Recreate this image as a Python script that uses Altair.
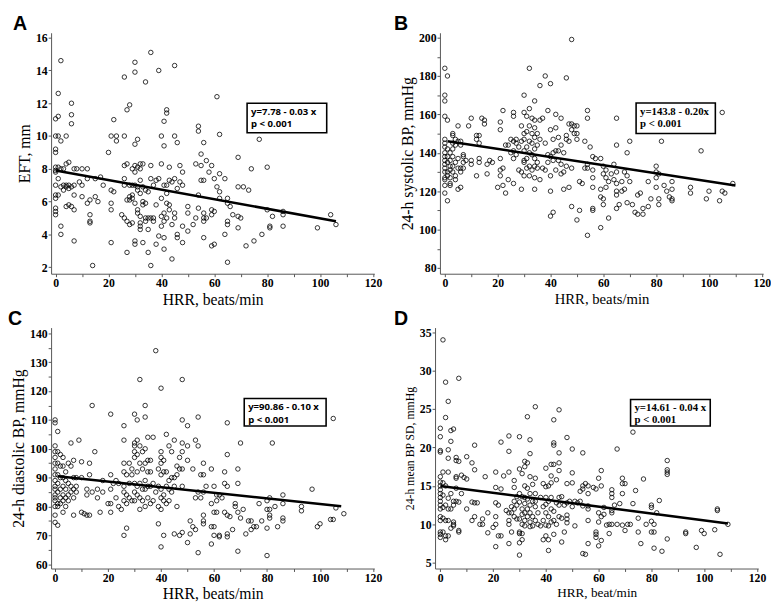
import altair as alt
import pandas as pd

# ---------------- data ----------------
# Panel A: HRR (beats/min) vs EFT (mm)
PTS_A = [(2,14.6),(1,12.6),(0,11.05),(1,11.2),(0,10),(1,10),(2,9.7),(4,10),(0,9.2),(0,9.0),(0,8.1),(1,8.1),(2,8.0),
 (0,7.9),(0,7.8),(1,7.4),(0,7.0),(2,6.9),(0,6.4),(1,6.4),(0,6.2),(0,5.6),(0,5.4),(0,5.2),(2,4.5),(2,4.0),(3,7.0),(3,6.7),
 (4,7.0),(4,6.9),(5,7.0),(5,6.8),(4,5.7),(5,5.8),(6,5.7),(4,8.3),(5,8.4),(3,8.0),(6,12.0),(6,11.3),(6,10.75),(7,8.0),
 (8,8.0),(7,7.0),(6,6.9),(7,6.4),(7,5.5),(7,3.6),(9,7.2),(10,7.0),(10,8.0),(12,8.0),(10,6.3),(12,5.9),(12,7.4),(13,6.1),
 (13,5.2),(13,4.8),(13,4.7),(14,2.1),(15,6.3),(15,7.4),(16,6.0),(17,7.5),(18,7.0),(20,9.0),(21,10.0),(21,6.7),(21,5.9),
 (21,5.5),(21,3.5),(22,11.0),(22,6.6),(23,10.0),(23,9.7),(25,5.2),(26,13.6),(26,10.0),(26,8.2),(26,7.4),(26,7.0),(26,5.0),
 (27,11.6),(27,8.3),(27,6.1),(27,4.8),(27,2.9),(28,11.9),(28,7.0),(28,6.3),(28,6.1),(28,4.6),(29,8.0),(29,7.0),(29,6.4),
 (29,6.2),(29,4.7),(30,14.5),(30,13.9),(30,9.5),(30,8.2),(30,7.8),(30,7.0),(30,5.9),(30,3.6),(30,3.4),(31,9.8),(31,8.1),
 (31,6.9),(31,6.7),(31,5.5),(31,5.3),(32,8.3),(32,8.0),(32,7.3),(32,6.5),(32,5.1),(32,4.7),(32,4.5),(32,4.3),(33,8.3),
 (33,6.9),(33,6.0),(33,5.8),(33,3.5),(34,13.3),(34,6.7),(34,5.9),(34,5.0),(34,4.8),(35,6.6),(35,5.0),(35,4.3),(35,2.9),
 (36,15.1),(36,8.2),(36,7.4),(36,5.0),(36,2.1),(37,7.0),(37,5.0),(37,4.8),(38,5.8),(38,3.4),(38,7.3),(39,14.0),(39,7.4),
 (39,3.9),(40,10.0),(40,8.3),(40,6.2),(40,5.1),(40,4.5),(41,10.9),(41,9.4),(41,7.0),(41,5.3),(41,4.8),(41,3.8),(41,3.1),
 (42,11.6),(42,11.4),(42,7.0),(42,6.5),(42,5.9),(42,5.0),(43,8.1),(43,7.3),(43,5.8),(43,5.5),(44,2.5),(44,4.6),(44,7.2),
 (45,14.3),(45,10.0),(45,7.4),(45,5.3),(45,5.0),(46,9.6),(46,6.8),(46,4.0),(46,3.8),(47,8.2),(47,7.2),(48,7.8),(48,7.0),
 (48,4.5),(48,3.5),(50,5.7),(50,5.3),(50,4.2),(52,4.6),(53,8.3),(53,5.0),(54,10.6),(54,10.3),(54,6.4),(54,5.6),(55,8.9),
 (55,7.3),(55,8.2),(56,9.6),(56,7.3),(56,5.3),(56,5.0),(56,4.8),(56,3.8),(57,5.0),(57,8.5),(58,7.8),(59,3.3),(59,5.5),
 (59,5.2),(59,8.2),(60,3.4),(60,7.4),(60,5.4),(61,12.4),(61,6.9),(62,10.1),(62,7.7),(62,6.6),(62,6.2),(64,4.0),(64,7.4),
 (65,6.2),(65,5.9),(65,4.8),(65,4.6),(65,2.3),(66,5.7),(67,5.2),(69,8.7),(69,6.9),(69,5.1),(69,4.4),(70,5.0),(71,6.9),
 (72,3.3),(73,6.7),(74,8.0),(75,3.6),(77,9.8),(78,4.0),(80,8.1),(80,5.5),(81,4.5),(81,4.4),(82,5.1),(86,5.4),(86,5.2),
 (86,4.5),(99,4.4),(104,5.2),(106,4.6)]
LINE_A = [(0, 7.9), (106, 4.8)]
EQ_A = ["y=7.78  - 0.03 x", "p < 0.001"]

# Panel B: HRR vs 24-h systolic BP (mmHg)
PTS_B = [(0,184),(0,170),(0,167),(0,159),(0,147),(0,145),(0,143),(0,140),(0,138),(0,136),(0,134),(0,132),(0,130),(0,127),
 (0,126),(0,123),(0,119),(1,180),(1,157),(1,115),(1,142),(1,138),(1,135),(1,130),(1,128),(2,140),(2,136),(2,133),(2,131),
 (2,127),(2,124),(2,123),(3,150),(3,149),(3,145),(3,142),(3,138),(3,133),(3,130),(4,147),(4,144),(4,135),(4,128),(4,126),
 (5,154),(5,146),(5,137),(5,132),(5,121),(6,146),(6,144),(6,132),(6,130),(6,122),(7,139),(7,138),(7,135),(7,132),(8,136),
 (9,154),(10,158),(10,136),(10,134),(12,149),(12,147),(12,128),(13,149),(13,145),(13,137),(13,135),(14,158),(15,157),
 (15,155),(16,134),(16,129),(17,136),(18,135),(20,122),(21,156),(21,152),(21,137),(21,131),(21,128),(22,162),(22,132),
 (22,123),(23,119),(23,144),(24,144),(24,126),(25,147),(25,140),(26,161),(26,159),(26,146),(26,141),(26,137),(26,124),
 (27,147),(27,145),(27,139),(28,143),(28,131),(29,154),(29,146),(29,130),(29,121),(30,170),(30,161),(30,150),(30,147),
 (30,141),(30,136),(30,135),(30,128),(31,159),(31,151),(31,143),(31,137),(31,132),(32,184),(32,163),(32,154),(32,146),
 (32,140),(32,133),(32,128),(33,158),(33,150),(33,145),(33,139),(33,131),(34,167),(34,157),(34,153),(34,148),(34,142),
 (34,137),(34,133),(34,127),(34,121),(35,150),(35,144),(35,135),(35,132),(36,175),(36,157),(36,147),(36,126),(37,158),
 (37,132),(38,180),(38,145),(38,131),(39,162),(39,139),(39,135),(40,176),(40,152),(40,138),(40,128),(40,120),(40,107),
 (41,147),(41,140),(41,136),(41,109),(42,160),(42,153),(42,141),(42,131),(43,148),(43,141),(43,136),(44,158),(44,144),
 (44,134),(44,129),(45,140),(45,130),(45,121),(46,179),(46,149),(46,147),(46,133),(47,155),(47,146),(47,122),(48,199),
 (48,155),(48,152),(48,132),(48,112),(49,154),(49,150),(50,154),(50,150),(50,147),(50,105),(51,125),(51,110),(52,124),
 (53,146),(53,132),(54,162),(54,158),(54,134),(54,132),(54,97),(55,143),(56,138),(56,131),(56,127),(56,122),(56,111),
 (56,110),(57,137),(59,137),(59,121),(59,117),(59,101),(60,133),(60,129),(60,116),(60,113),(61,131),(61,127),(61,122),
 (62,125),(62,106),(63,129),(64,134),(64,126),(65,158),(65,144),(65,130),(65,124),(65,120),(65,118),(65,111),(66,113),
 (67,125),(67,120),(68,130),(68,121),(69,140),(69,128),(69,114),(70,146),(70,125),(71,113),(72,109),(73,118),(73,108),
 (74,119),(75,108),(75,111),(77,125),(77,112),(78,116),(80,133),(80,130),(80,127),(80,122),(81,129),(81,116),(81,113),
 (82,146),(83,123),(84,120),(85,117),(86,125),(86,121),(86,116),(86,115),(93,122),(93,119),(97,141),(99,116),(100,120),
 (104,115),(105,161),(105,120),(106,119),(109,124)]
LINE_B = [(1, 146.0), (110, 123.0)]
EQ_B = ["y=143.8  - 0.20x", "p < 0.001"]

# Panel C: HRR vs 24-h diastolic BP (mmHg)
PTS_C = [(0,110),(0,109),(0,101),(0,99),(0,97),(0,95),(0,93),(0,91),(0,89),(0,87),(0,86),(0,84),(0,83),(0,82),(0,80),
 (0,77),(0,74.5),(1,106),(1,99),(1,95),(1,91),(1,88),(1,85),(1,81),(1,80),(1,73.5),(2,98),(2,94),(2,90),(2,86),(2,83),
 (2,81),(3,97),(3,94),(3,90),(3,87),(3,84),(3,82),(3,78),(4,92),(4,89),(4,86),(4,83),(4,80),(5,95),(5,88),(5,84),(5,82),
 (6,102),(6,94),(6,87),(6,85),(7,96),(7,90),(7,86),(7,83),(7,77),(8,90),(8,87),(8,85),(9,103),(10,95.5),(10,90),(10,78),
 (11,77.5),(12,86),(12,84),(12,77),(13,95),(13,91),(13,77),(14,115),(14,85),(15,99),(16,86),(16,83),(17,78),(18,89),
 (18,85),(20,81),(21,112),(21,91),(21,86),(21,81),(21,78),(22,88),(23,89),(23,83),(24,88),(24,80),(25,79),(26,108),
 (26,103),(26,95),(26,92),(26,87),(26,85),(26,82),(26,70),(27,91),(27,84),(27,81),(27,72.5),(28,95),(28,88),(28,83),
 (29,93),(29,91),(29,82),(30,112),(30,102),(30,101),(30,99),(30,97),(30,88),(30,85),(30,82),(31,110),(31,103),(31,98),
 (31,92),(31,87),(31,84),(32,124),(32,101),(32,95),(32,88),(32,83),(32,79),(33,99),(33,93),(33,86),(33,82),(34,115),
 (34,111),(34,100),(34,95),(34,89),(34,86),(34,80),(35,104),(35,96),(35,92),(35,87),(35,83),(36,96),(36,92),(36,87),
 (36,81),(37,104),(37,88),(37,82),(38,134),(38,85),(39,93),(39,87),(39,80),(39,74),(40,121),(40,99),(40,97),(40,95),
 (40,91),(40,86),(40,83),(40,79),(40,66),(41,96),(41,92),(41,84),(41,82),(41,70),(42,105),(42,92),(42,87),(42,81),
 (43,101),(43,89),(43,86),(43,82),(44,99),(44,90),(44,85),(45,103),(45,90),(45,87),(45,70.5),(46,94),(46,91),(46,80),
 (47,97),(47,93),(47,70),(48,124),(48,110),(48,102),(48,99),(48,93),(48,87),(48,71),(50,108),(50,101),(50,96),(50,67.5),
 (51,75),(51,70.5),(52,93),(52,73),(53,103),(53,83),(53,72),(54,111),(54,101),(54,85),(54,64),(55,91),(55,83),(56,95),
 (56,91),(56,85),(56,77),(56,75),(56,74),(57,87),(59,93),(59,81),(59,73),(59,67),(60,87),(60,78),(60,73),(60,70),(61,84),
 (61,82),(61,78),(62,84),(62,70),(62,69.5),(63,83),(64,92),(64,88),(64,78),(65,109),(65,98),(65,87),(65,77),(65,70.5),
 (65,69.5),(66,76.5),(67,72),(68,81),(68,80),(69,93),(69,88),(69,78),(69,64.5),(70,102),(70,76),(71,79),(72,70.5),(73,75),
 (74,72),(74,75),(75,73),(76,73),(77,81),(78,75),(80,82),(80,79),(80,72.5),(80,63),(81,83),(81,79),(81,77),(81,76),
 (82,102),(83,80),(84,73),(86,84),(86,81),(86,76),(86,75),(93,80),(93,78.5),(97,86),(99,73),(100,74),(104,75.5),
 (105,75.5),(105,110.5),(106,79.5),(109,77.5)]
LINE_C = [(1, 90.5), (108, 80.1)]
EQ_C = ["y=90.86 - 0.10 x", "p < 0.001"]

# Panel D: HRR vs 24-h mean BP SD (mmHg)
PTS_D = [(0,22.5),(0,21.4),(0,19.6),(0,19.4),(0,16.2),(0,15.5),(0,15),(0,14.5),(0,14),(0,13.5),(0,13),(0,12.5),(0,12),
 (0,11),(0,10.5),(0,9),(0,8.7),(0,8.3),(1,34),(1,16.8),(1,15.4),(1,13.8),(1,12.2),(1,10.8),(1,9),(2,28.5),(2,23.9),(2,15),
 (2,12.5),(2,10.5),(2,8.5),(2,8),(3,26),(3,19.7),(3,18.6),(3,16.8),(3,13.4),(3,12),(3,10.5),(3,8.5),(4,22.2),(4,20.8),
 (4,14),(4,12),(4,9.5),(5,22.4),(5,13),(5,12.5),(5,10.3),(5,10),(5,9.8),(6,18.7),(6,18.3),(6,16.2),(6,16),(6,14.7),(6,13),
 (7,29),(7,18.2),(7,12.9),(7,9.2),(7,9),(8,16.4),(8,14),(9,16.1),(10,18.8),(10,15.9),(10,12),(12,18),(12,12.9),(12,10.5),
 (13,20.3),(13,17.1),(13,12.8),(13,11),(14,12.8),(15,10),(16,10.7),(16,10),(17,16.2),(18,11.5),(18,8.9),(20,9.6),(21,16.8),
 (21,14.8),(21,12.8),(21,11),(21,10),(21,7.1),(22,12.5),(22,8.5),(23,20.7),(23,14.6),(23,8.5),(24,16.3),(25,11.8),(26,21.5),
 (26,19.5),(26,16.8),(26,11.5),(26,10.5),(26,10),(26,7.5),(27,12.3),(27,11.5),(27,9),(28,15.7),(28,14.8),(28,13),(28,12),
 (28,11),(29,13.6),(29,12.5),(29,10.7),(30,21.4),(30,17.2),(30,14),(30,12.9),(30,10.7),(30,9),(30,8.8),(30,7.6),(30,6),
 (31,16.6),(31,13.6),(31,12),(31,11.3),(31,10),(31,8.8),(31,8),(32,18.2),(32,17.5),(32,15),(32,13.5),(32,12.7),(32,11.5),
 (32,10.5),(32,9.8),(33,24),(33,18),(33,14.7),(33,13.3),(33,12),(33,11),(34,21),(34,19.2),(34,16.2),(34,14),(34,12.5),
 (34,11.5),(34,10.3),(34,9.7),(35,15.2),(35,13),(35,11),(35,9.8),(36,25.3),(36,16),(36,14),(36,13),(36,12.3),(36,10.5),
 (37,11.5),(37,10),(38,13.5),(38,9.8),(39,15.3),(39,12.3),(39,10.5),(39,8),(40,17.3),(40,14.9),(40,13.5),(40,12.6),
 (40,11.5),(40,9.9),(40,8.5),(41,15),(41,13),(41,11),(41,9.8),(41,8),(41,6.6),(42,17.8),(42,16.3),(42,15.4),(42,13.5),
 (42,12),(42,10.3),(43,23.6),(43,20.6),(43,20.3),(43,17.8),(43,11.7),(43,10.5),(43,8.7),(44,15.8),(44,12.8),(44,10),
 (45,24.9),(45,19.3),(45,18),(45,17),(45,13.5),(45,12.5),(45,11),(46,13.6),(46,10.8),(46,7.7),(47,12.5),(47,9),(48,21.3),
 (48,15.3),(48,12.8),(48,11.2),(48,10.7),(48,10.2),(49,13),(50,19.8),(50,16.7),(50,15.4),(50,12.3),(51,13),(51,9.8),
 (52,12.8),(53,14.3),(53,13),(54,19.3),(54,15),(54,14.6),(54,12.4),(54,6.2),(55,6.1),(55,15.3),(56,15),(56,14),(56,12.4),
 (56,12),(56,10.5),(56,7.5),(58,14.8),(59,14.6),(59,9),(59,8.7),(59,8.3),(60,16),(60,11.5),(60,10.3),(60,7.2),(61,17),
 (61,15),(61,11),(61,7.9),(62,12.2),(62,11.3),(63,9.9),(64,8.8),(64,10),(65,14.5),(65,14),(65,13.5),(65,11.8),(65,11.5),
 (65,10),(66,12.5),(67,19.8),(67,10),(68,12.7),(69,16),(69,15.3),(69,14),(69,9.9),(70,15.3),(70,9.2),(71,10),(72,10),
 (73,22),(73,12.7),(74,14.4),(75,10.8),(75,9),(76,7.5),(77,15.9),(78,10),(80,12.5),(80,12.2),(80,10.4),(80,9),(81,10),
 (81,9),(81,6.9),(82,11.5),(83,13.1),(84,6.5),(86,18.3),(86,17.1),(86,16.8),(86,16.5),(86,8.1),(93,9),(93,8.8),(97,7),
 (99,9.2),(100,8.8),(104,9.3),(105,12),(105,11.8),(106,6.1),(109,10)]
LINE_D = [(0, 15.0), (109, 10.1)]
EQ_D = ["y=14.61 - 0.04 x", "p < 0.001"]

X_TICKS = list(range(0, 121, 10))

SERIF = "Liberation Serif"
SANS = "Noto Sans"

W, H = 330, 246


def panel(letter, pts, line, eq, box, xtitle, ytitle, xdom, ydom, yticks, ylab_every,
          eq_font, eq_size, xt_size, yt_size, letter_pos):
    X = alt.X("x:Q",
              scale=alt.Scale(domain=xdom, nice=False, zero=False),
              axis=alt.Axis(values=X_TICKS,
                            labelExpr="datum.value % 20 == 0 ? datum.label : ''",
                            title=xtitle, titleFontSize=xt_size, titlePadding=3))
    Y = alt.Y("y:Q",
              scale=alt.Scale(domain=ydom, nice=False, zero=False),
              axis=alt.Axis(values=yticks,
                            labelExpr="datum.value %% %s == 0 ? datum.label : ''" % ylab_every,
                            title=ytitle, titleFontSize=yt_size, titlePadding=3))
    df = pd.DataFrame(pts, columns=["x", "y"])
    pts_layer = alt.Chart(df).mark_point(shape="circle", filled=False, color="black",
                                         size=21, strokeWidth=0.8, opacity=1).encode(x=X, y=Y)
    ldf = pd.DataFrame(line, columns=["x", "y"])
    line_layer = alt.Chart(ldf).mark_line(color="black", strokeWidth=2.6).encode(x=X, y=Y)
    bdf = pd.DataFrame([{"x": box[0], "x2": box[1], "y": box[2], "y2": box[3]}])
    rect = alt.Chart(bdf).mark_rect(fill="white", stroke="black", strokeWidth=1.6).encode(
        x=X, x2="x2:Q", y=Y, y2="y2:Q")
    t1 = alt.Chart(bdf).mark_text(text=eq[0], align="left", baseline="middle", dx=4, dy=9,
                                  font=eq_font, fontSize=eq_size, fontWeight="bold",
                                  color="black").encode(x=X, y=Y)
    t2 = alt.Chart(bdf).mark_text(text=eq[1], align="left", baseline="middle", dx=4, dy=21.5,
                                  font=eq_font, fontSize=eq_size, fontWeight="bold",
                                  color="black").encode(x=X, y=Y)
    lt = alt.Chart(pd.DataFrame({"a": [0]})).mark_text(
        text=letter, align="left", baseline="alphabetic", font="Liberation Sans",
        fontSize=20, fontWeight="bold", color="black").encode(
        x=alt.value(letter_pos[0]), y=alt.value(letter_pos[1]))
    return alt.layer(pts_layer, line_layer, rect, t1, t2, lt).properties(width=W, height=H)


pA = panel("A", PTS_A, LINE_A, EQ_A, (72.4, 102.5, 12.0, 10.2),
           "HRR, beats/min", "EFT, mm", [-1.7, 120.5], [1.6, 16.3], list(range(2, 17, 2)), 2,
           SANS, 9.8, 16, 16, (-39, -3))
pB = panel("B", PTS_B, LINE_B, EQ_B, (72.4, 102.4, 165.9, 150.0),
           "HRR, beats/min", "24-h systolic BP, mmHg", [-1.85, 120.5], [77, 202.5],
           list(range(80, 201, 10)), 20, SERIF, 11, 15, 16, (-47, -3))
pC = panel("C", PTS_C, LINE_C, EQ_C, (71.4, 102.3, 117.4, 107.9),
           "HRR, beats/min", "24-h diastolic BP, mmHg", [-1.5, 120.5], [58.5, 142],
           list(range(60, 141, 5)), 10, SANS, 9.8, 16, 16, (-44, -3))
pD = panel("D", PTS_D, LINE_D, EQ_D, (72.1, 102.3, 26.25, 22.8),
           "HRR, beat/min", "24-h mean BP SD, mmHg", [-2, 120.5], [4.25, 35.6],
           list(range(5, 36, 5)), 5, SERIF, 11, 13.5, 12, (-42, -3))

chart = alt.vconcat(
    alt.hconcat(pA, pB, spacing=12),
    alt.hconcat(pC, pD, spacing=12),
    spacing=2,
).properties(padding=0).configure_view(stroke=None).configure_axis(
    grid=False, domainColor="#555555", tickColor="#555555", domainWidth=1, tickWidth=1,
    tickSize=3, labelPadding=1, labelFont=SERIF, labelFontWeight="bold", labelFontSize=12,
    labelColor="black", titleFont=SERIF, titleFontWeight="normal", titleColor="black",
    labelOverlap=False, labelFlush=False,
)

chart.save("out.html", embed_options={"renderer": "svg", "actions": False})
